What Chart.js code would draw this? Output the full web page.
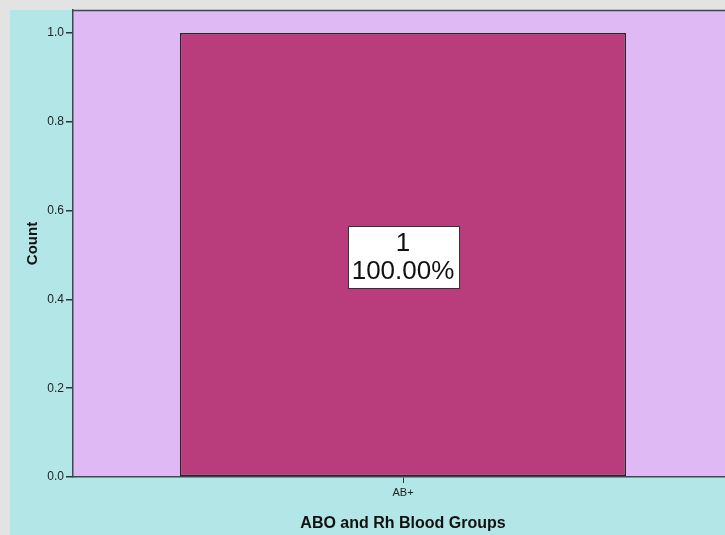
<!DOCTYPE html>
<html>
<head>
<meta charset="utf-8">
<script src="https://cdn.jsdelivr.net/npm/chart.js@4/dist/chart.umd.min.js"></script>
<style>
  html, body { margin:0; padding:0; width:725px; height:535px; overflow:hidden; background:#e3e3e3; }
  #wrap { position:absolute; left:0; top:0; width:740px; height:535px; }
</style>
</head>
<body>
<div id="wrap"><canvas id="c" width="740" height="535"></canvas></div>
<script>
const categories = ["AB+"];
const counts = [1];
const percents = ["100.00%"];
const yTicks = [0, 0.2, 0.4, 0.6, 0.8, 1.0];

const FONT = "'Liberation Sans', Arial, sans-serif";

const bgPlugin = {
  id: 'bg',
  beforeDraw(chart) {
    const ctx = chart.ctx, a = chart.chartArea;
    ctx.save();
    ctx.fillStyle = '#e3e3e3';
    ctx.fillRect(0, 0, chart.width, chart.height);
    ctx.fillStyle = '#b3e6e7';
    ctx.fillRect(10, 10, chart.width - 10, chart.height - 10);
    ctx.fillStyle = '#dfb9f3';
    ctx.fillRect(a.left, a.top, a.right - a.left, a.bottom - a.top);
    ctx.restore();
  },
  afterDraw(chart) {
    const ctx = chart.ctx, a = chart.chartArea;
    ctx.save();
    ctx.fillStyle = '#e3e3e3';
    ctx.fillRect(a.left - 3, 0, 6, a.top - 1);
    ctx.strokeStyle = '#3c4a50';
    ctx.lineWidth = 1.5;
    ctx.beginPath();
    ctx.moveTo(a.left, a.top + 0.5);
    ctx.lineTo(a.right, a.top + 0.5);
    ctx.stroke();
    ctx.restore();
  },
  afterDatasetsDraw(chart) {
    const ctx = chart.ctx;
    ctx.save();
    const meta = chart.getDatasetMeta(0);
    meta.data.forEach((bar, i) => {
      const cx = bar.x;
      const cy = (bar.y + bar.base) / 2 + 2;
      ctx.font = '26px ' + FONT;
      const l1 = String(counts[i]);
      const l2 = percents[i];
      const w = Math.max(ctx.measureText(l1).width, ctx.measureText(l2).width) + 8;
      const h = 62;
      ctx.fillStyle = '#ffffff';
      ctx.fillRect(Math.round(cx - w/2), Math.round(cy - h/2), Math.round(w), h);
      ctx.strokeStyle = '#333333';
      ctx.lineWidth = 1;
      ctx.strokeRect(Math.round(cx - w/2) + 0.5, Math.round(cy - h/2) + 0.5, Math.round(w), h);
      ctx.fillStyle = '#111111';
      ctx.textAlign = 'center';
      ctx.textBaseline = 'middle';
      ctx.fillText(l1, cx, cy - 13);
      ctx.fillText(l2, cx, cy + 15);
    });
    ctx.restore();
  }
};

new Chart(document.getElementById('c'), {
  type: 'bar',
  data: {
    labels: categories,
    datasets: [{
      data: counts,
      backgroundColor: '#b93d7c',
      borderColor: '#2a2228',
      borderWidth: 1.5,
      borderSkipped: false,
      barPercentage: 0.676,
      categoryPercentage: 1.0
    }]
  },
  options: {
    responsive: false,
    animation: false,
    devicePixelRatio: 1,
    layout: { padding: { left: 0, right: 7, top: 10, bottom: 0 } },
    plugins: { legend: { display: false }, tooltip: { enabled: false } },
    scales: {
      x: {
        grid: { offset: false, drawOnChartArea: false, drawTicks: true, tickLength: 6, color: '#333', lineWidth: 1 },
        border: { display: true, color: '#3c4a50', width: 1.5 },
        ticks: { color: '#222', font: { family: FONT, size: 11 }, padding: 3 },
        title: { display: true, text: 'ABO and Rh Blood Groups', color: '#111',
                 font: { family: FONT, size: 16, weight: 'bold' }, padding: { top: 8, bottom: 2 } },
        afterFit(s) { s.height = 58; }
      },
      y: {
        min: 0, max: 1.052,
        afterBuildTicks(s) { s.ticks = yTicks.map(v => ({ value: v })); },
        grid: { drawOnChartArea: false, drawTicks: true, tickLength: 7, color: '#333', lineWidth: 1.5 },
        border: { display: true, color: '#3c4a50', width: 1.5 },
        ticks: { color: '#222', font: { family: FONT, size: 12 }, padding: 2,
                 callback: v => Number(v).toFixed(1) },
        title: { display: true, text: 'Count', color: '#111',
                 font: { family: FONT, size: 15, weight: 'bold' }, padding: { top: 24, bottom: 0 } },
        afterFit(s) { s.width = 73; }
      }
    }
  },
  plugins: [bgPlugin]
});
</script>
</body>
</html>
